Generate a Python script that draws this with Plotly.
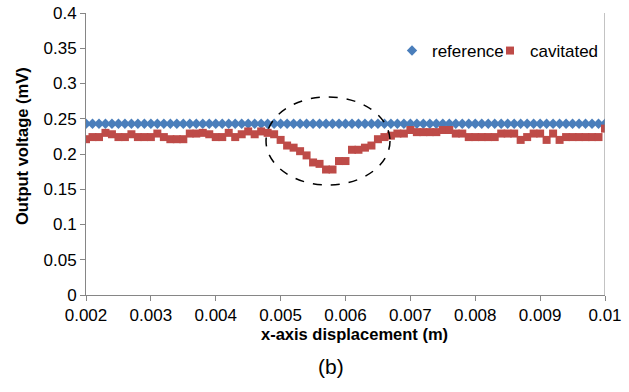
import plotly.graph_objects as go

x_vals = [round(0.002 + 0.0001 * i, 4) for i in range(81)]

reference = [0.243] * 81

cavitated = [
    0.221, 0.224, 0.224, 0.230, 0.228, 0.224, 0.224, 0.228, 0.224, 0.224,
    0.224, 0.229, 0.224, 0.221, 0.221, 0.221, 0.229, 0.229, 0.230, 0.228,
    0.224, 0.224, 0.230, 0.224, 0.228, 0.232, 0.228, 0.232, 0.230, 0.228,
    0.220, 0.212, 0.209, 0.204, 0.198, 0.188, 0.186, 0.178, 0.178, 0.190,
    0.190, 0.206, 0.206, 0.209, 0.212, 0.221, 0.224, 0.226, 0.229, 0.229,
    0.234, 0.231, 0.231, 0.231, 0.231, 0.234, 0.234, 0.229, 0.229, 0.224,
    0.224, 0.224, 0.224, 0.224, 0.229, 0.229, 0.229, 0.220, 0.224, 0.229,
    0.229, 0.220, 0.229, 0.220, 0.224, 0.224, 0.224, 0.224, 0.224, 0.224,
    0.236,
]

x_ticks = [0.002, 0.003, 0.004, 0.005, 0.006, 0.007, 0.008, 0.009, 0.01]
x_tick_labels = ["0.002", "0.003", "0.004", "0.005", "0.006", "0.007", "0.008", "0.009", "0.01"]
y_ticks = [0, 0.05, 0.1, 0.15, 0.2, 0.25, 0.3, 0.35, 0.4]
y_tick_labels = ["0", "0.05", "0.1", "0.15", "0.2", "0.25", "0.3", "0.35", "0.4"]

FONT = "Liberation Sans, Arial, sans-serif"
AXIS_COLOR = "#868686"

L, R, T, B = 86, 24, 13, 97
PW, PH = 629 - L - R, 392 - T - B


def px_x(p):
    return (p - L) / PW


def px_y(p):
    return 1 - (p - T) / PH


fig = go.Figure()
fig.add_trace(go.Scatter(
    x=x_vals, y=reference, mode="markers", name="reference", legend="legend",
    marker=dict(symbol="diamond", size=8, color="#4A7EBB", line=dict(width=0)),
))
fig.add_trace(go.Scatter(
    x=x_vals, y=cavitated, mode="markers", name="cavitated", legend="legend2",
    marker=dict(symbol="square", size=8, color="#BE4B48", line=dict(width=0)),
))

# dashed ellipse highlighting the dip
fig.add_shape(type="circle", xref="x", yref="y",
              x0=0.004775, x1=0.006686, y0=0.156, y1=0.281,
              line=dict(color="black", width=1.5, dash="dash"))
# right border line
fig.add_shape(type="line", xref="x", yref="y", x0=0.01, x1=0.01, y0=0, y1=0.4,
              line=dict(color=AXIS_COLOR, width=1))

legend_common = dict(orientation="h", xanchor="left", yanchor="middle",
                     font=dict(size=17), bgcolor="rgba(0,0,0,0)",
                     itemwidth=30, borderwidth=0)

fig.update_layout(
    width=629, height=392,
    margin=dict(l=L, r=R, t=T, b=B, autoexpand=False),
    paper_bgcolor="white", plot_bgcolor="white",
    font=dict(family=FONT, size=17, color="black"),
    showlegend=True,
    legend=dict(x=px_x(392), y=px_y(51), **legend_common),
    legend2=dict(x=px_x(490), y=px_y(51), **legend_common),
    xaxis=dict(range=[0.002, 0.01], tickvals=x_ticks, ticktext=x_tick_labels,
               showgrid=False, zeroline=False, showline=True, linecolor=AXIS_COLOR,
               linewidth=1, ticks="outside", ticklen=5, tickcolor=AXIS_COLOR,
               tickfont=dict(size=17), automargin=False),
    yaxis=dict(range=[0, 0.4], tickvals=y_ticks, ticktext=y_tick_labels,
               showgrid=False, zeroline=False, showline=True, linecolor=AXIS_COLOR,
               linewidth=1, ticks="outside", ticklen=5, tickcolor=AXIS_COLOR,
               tickfont=dict(size=17), automargin=False),
    annotations=[
        dict(text="<b>x-axis displacement (m)</b>", xref="paper", yref="paper",
             x=px_x(354), y=px_y(334), xanchor="center", yanchor="middle",
             showarrow=False, font=dict(size=16.5)),
        dict(text="<b>Output voltage (mV)</b>", xref="paper", yref="paper",
             x=px_x(22), y=px_y(146), xanchor="center", yanchor="middle",
             textangle=-90, showarrow=False, font=dict(size=16.5)),
        dict(text="(b)", xref="paper", yref="paper",
             x=px_x(331), y=px_y(366), xanchor="center", yanchor="middle",
             showarrow=False, font=dict(size=21)),
    ],
)

fig.write_html("out.html")
